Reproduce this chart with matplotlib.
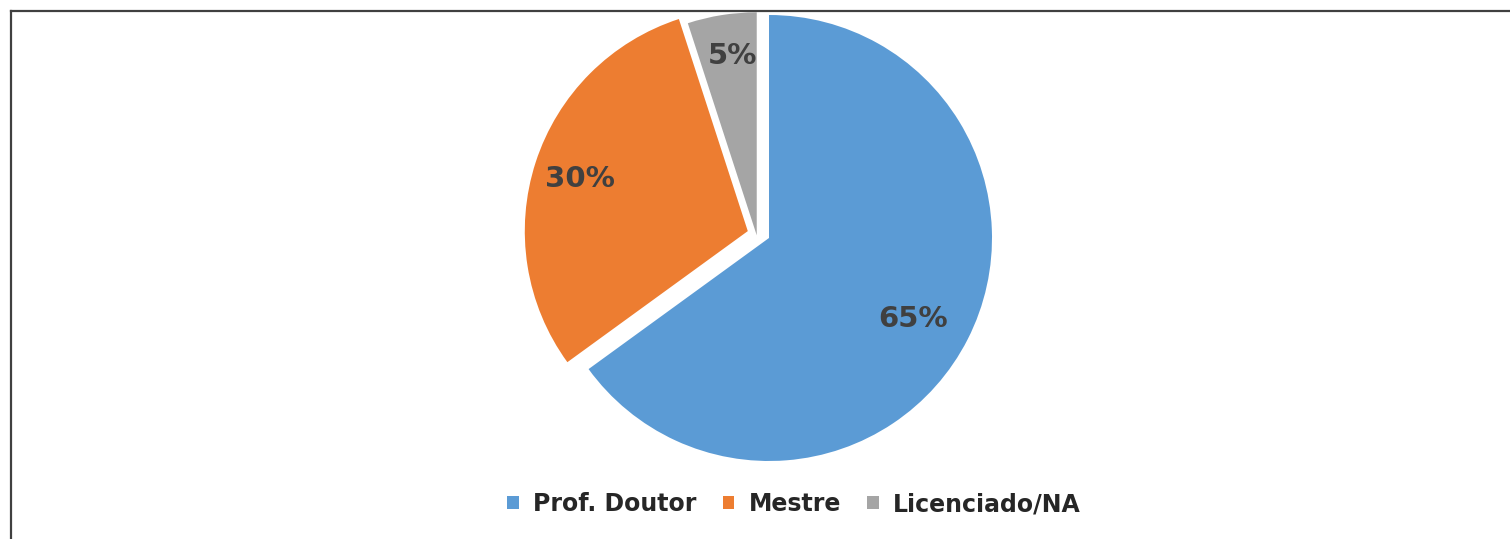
import matplotlib
matplotlib.use("Agg")
import matplotlib.pyplot as plt
from matplotlib.patches import Patch
from matplotlib.lines import Line2D

categories = ["Prof. Doutor", "Mestre", "Licenciado/NA"]
values = [65, 30, 5]
colors = ["#5B9BD5", "#ED7D31", "#A5A5A5"]
explode = [0.0, 0.10, 0.0]

W, H = 1510, 539
fig = plt.figure(figsize=(W / 100, H / 100), dpi=100)
fig.patch.set_facecolor("white")

cx, cy, R = 769, 238, 223
ax = fig.add_axes([(cx - R) / W, (H - cy - R) / H, 2 * R / W, 2 * R / H])
wedges, texts, autotexts = ax.pie(
    values, colors=colors, explode=explode, startangle=90, counterclock=False,
    radius=1.0, autopct=lambda p: f"{p:.0f}%", pctdistance=0.76,
    wedgeprops=dict(linewidth=0, clip_on=False),
    textprops=dict(color="#404040", fontsize=21, fontweight="bold",
                   family="DejaVu Sans"))
for w in wedges:
    w.set_clip_on(False)

# small offset for the grey slice (as in the reference)
dx, dy = -0.055, 0.012
wedges[2].set_center((dx, dy))
x, y = autotexts[2].get_position()
autotexts[2].set_position((x + dx + 0.01, y + dy + 0.054))
x, y = autotexts[0].get_position()
autotexts[0].set_position((x - 0.03, y - 0.02))
x, y = autotexts[1].get_position()
autotexts[1].set_position((x - 0.03, y))

ax.set_xlim(-1, 1)
ax.set_ylim(-1, 1)
ax.set_aspect("equal")
ax.axis("off")

handles = [Patch(facecolor=c, edgecolor="none") for c in colors]
leg = fig.legend(handles, categories, loc="center", bbox_to_anchor=(794 / W, 1 - 504 / H),
                 ncol=3, frameon=False, handlelength=0.5, handleheight=0.5,
                 handletextpad=0.6, columnspacing=1.1,
                 prop=dict(family="DejaVu Sans", weight="bold", size=17))
for t in leg.get_texts():
    t.set_color("#262626")

# frame lines (top and left)
fig.add_artist(Line2D([11 / W, 1.0], [1 - 11 / H, 1 - 11 / H], color="#404040", lw=1.6,
                      transform=fig.transFigure))
fig.add_artist(Line2D([11 / W, 11 / W], [0, 1 - 11 / H], color="#404040", lw=1.6,
                      transform=fig.transFigure))

fig.savefig("out.png", dpi=100, facecolor="white")
